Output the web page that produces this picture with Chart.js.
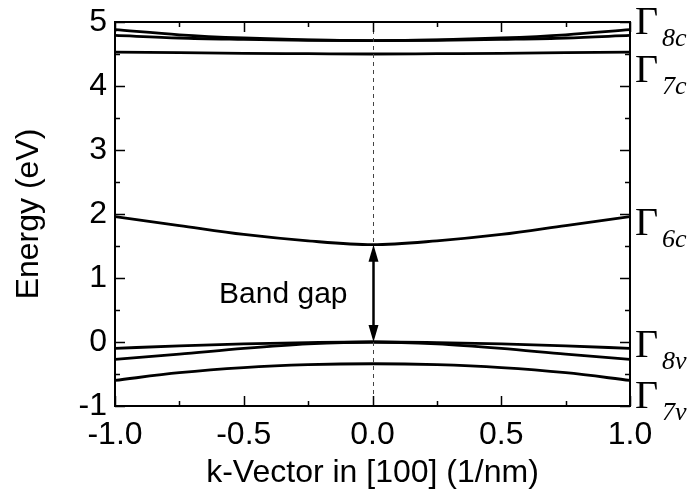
<!DOCTYPE html>
<html>
<head>
<meta charset="utf-8">
<script src="https://cdn.jsdelivr.net/npm/chart.js@4.4.1/dist/chart.umd.min.js"></script>
<style>
  html, body { margin: 0; padding: 0; background: #fff; }
  canvas { display: block; }
</style>
</head>
<body>
<canvas id="canvas" width="692" height="496"></canvas>
<script>
// k-vector sample points (1/nm)
const K = [-1, -0.75, -0.5, -0.25, 0, 0.25, 0.5, 0.75, 1];

// band energies (eV)
const G8C_UPPER = [4.88, 4.80, 4.75, 4.72, 4.71, 4.72, 4.75, 4.80, 4.88];
const G8C_LOWER = [4.79, 4.75, 4.73, 4.715, 4.71, 4.715, 4.73, 4.75, 4.79];
const G7C = [4.53, 4.52, 4.51, 4.505, 4.50, 4.505, 4.51, 4.52, 4.53];
const G6C = [1.96, 1.82, 1.68, 1.58, 1.52, 1.58, 1.68, 1.82, 1.96];
const G8V_HEAVY = [-0.10, -0.06, -0.03, -0.01, 0, -0.01, -0.03, -0.06, -0.10];
const G8V_LIGHT = [-0.27, -0.19, -0.10, -0.03, 0, -0.03, -0.10, -0.19, -0.27];
const G7V = [-0.60, -0.48, -0.40, -0.355, -0.34, -0.355, -0.40, -0.48, -0.60];

const X_TICKS = [-1, -0.5, 0, 0.5, 1];
const Y_TICKS = [-1, 0, 1, 2, 3, 4, 5];

// band labels: main, subscript, energy of the label baseline
const BAND_LABELS = [
    ["Γ", "8c", 4.81],
    ["Γ", "7c", 4.06],
    ["Γ", "6c", 1.67],
    ["Γ", "8v", -0.23],
    ["Γ", "7v", -1.03]
];
const GAP_TOP = 1.52;
const GAP_BOTTOM = 0;

function band(values) {
    return {
        data: K.map(function (k, i) { return {x: k, y: values[i]}; }),
        borderColor: '#000',
        borderWidth: 2.8,
        pointRadius: 0,
        cubicInterpolationMode: 'monotone',
        fill: false
    };
}

const frameTicks = {
    id: 'frameTicks',
    afterDatasetsDraw: function (chart) {
        const ctx = chart.ctx;
        const a = chart.chartArea;
        const xs = chart.scales.x, ys = chart.scales.y;
        ctx.save();

        // dashed line at k = 0
        ctx.strokeStyle = '#444';
        ctx.lineWidth = 1;
        ctx.setLineDash([4, 4]);
        const x0 = Math.round(xs.getPixelForValue(0)) + 0.5;
        ctx.beginPath();
        ctx.moveTo(x0, a.top);
        ctx.lineTo(x0, a.bottom);
        ctx.stroke();
        ctx.setLineDash([]);

        // band gap arrow
        const yt = ys.getPixelForValue(GAP_TOP), yb = ys.getPixelForValue(GAP_BOTTOM);
        ctx.strokeStyle = '#000';
        ctx.fillStyle = '#000';
        ctx.lineWidth = 2.5;
        ctx.beginPath();
        ctx.moveTo(x0, yt + 10);
        ctx.lineTo(x0, yb - 10);
        ctx.stroke();
        ctx.beginPath();
        ctx.moveTo(x0, yt); ctx.lineTo(x0 - 5, yt + 17); ctx.lineTo(x0 + 5, yt + 17); ctx.closePath();
        ctx.fill();
        ctx.beginPath();
        ctx.moveTo(x0, yb); ctx.lineTo(x0 - 5, yb - 17); ctx.lineTo(x0 + 5, yb - 17); ctx.closePath();
        ctx.fill();

        ctx.font = '30px "Liberation Sans", Arial, sans-serif';
        ctx.textAlign = 'right';
        ctx.textBaseline = 'middle';
        ctx.fillText('Band gap', x0 - 26, ys.getPixelForValue(0.74));

        // frame
        ctx.lineWidth = 2;
        ctx.strokeRect(a.left, a.top, a.right - a.left, a.bottom - a.top);

        // inward ticks on all four sides
        ctx.lineWidth = 1.5;
        ctx.beginPath();
        for (let v = -1; v <= 1.001; v += 0.25) {
            const px = Math.round(xs.getPixelForValue(v)) + 0.5;
            const len = Math.abs(v * 2 - Math.round(v * 2)) < 0.01 ? 10 : 5;
            ctx.moveTo(px, a.bottom); ctx.lineTo(px, a.bottom - len);
            ctx.moveTo(px, a.top); ctx.lineTo(px, a.top + len);
        }
        for (let v = -1; v <= 5.001; v += 0.5) {
            const py = Math.round(ys.getPixelForValue(v)) + 0.5;
            const len = Math.abs(v - Math.round(v)) < 0.01 ? 10 : 5;
            ctx.moveTo(a.left, py); ctx.lineTo(a.left + len, py);
            ctx.moveTo(a.right, py); ctx.lineTo(a.right - len, py);
        }
        ctx.stroke();

        // band labels on the right
        ctx.textAlign = 'left';
        ctx.textBaseline = 'alphabetic';
        BAND_LABELS.forEach(function (lb) {
            const base = ys.getPixelForValue(lb[2]);
            ctx.font = '40px "Liberation Serif", "DejaVu Serif", serif';
            ctx.fillText(lb[0], a.right + 5, base);
            ctx.font = 'italic 26px "Liberation Serif", "DejaVu Serif", serif';
            ctx.fillText(lb[1], a.right + 32, base + 12);
        });
        ctx.restore();
    }
};

const ctx = document.getElementById('canvas').getContext('2d');
const chart = new Chart(ctx, {
    type: 'line',
    data: {
        datasets: [band(G8C_UPPER), band(G8C_LOWER), band(G7C), band(G6C),
                   band(G8V_HEAVY), band(G8V_LIGHT), band(G7V)]
    },
    options: {
        responsive: false,
        animation: false,
        layout: { padding: { left: 0, right: 62, top: 22, bottom: 0 } },
        plugins: { legend: { display: false }, tooltip: { enabled: false } },
        scales: {
            x: {
                type: 'linear',
                min: -1, max: 1,
                afterBuildTicks: function (s) { s.ticks = X_TICKS.map(function (v) { return {value: v}; }); },
                afterFit: function (s) { s.height = 90; s.paddingLeft = 0; s.paddingRight = 0; },
                grid: { display: false, drawTicks: false },
                border: { display: false },
                ticks: {
                    color: '#000', padding: 10, maxRotation: 0,
                    font: { family: '"Liberation Sans", Arial, sans-serif', size: 32 },
                    callback: function (v) { return v.toFixed(1); }
                },
                title: {
                    display: true, text: 'k-Vector in [100] (1/nm)', color: '#000',
                    font: { family: '"Liberation Sans", Arial, sans-serif', size: 32 },
                    padding: { top: 0, bottom: 4 }
                }
            },
            y: {
                type: 'linear',
                min: -1, max: 5,
                afterBuildTicks: function (s) { s.ticks = Y_TICKS.map(function (v) { return {value: v}; }); },
                afterFit: function (s) { s.width = 115; s.paddingTop = 0; s.paddingBottom = 0; },
                grid: { display: false, drawTicks: false },
                border: { display: false },
                ticks: {
                    color: '#000', padding: 8,
                    font: { family: '"Liberation Sans", Arial, sans-serif', size: 32 },
                    callback: function (v) { return String(v); }
                },
                title: {
                    display: true, text: 'Energy (eV)', color: '#000',
                    font: { family: '"Liberation Sans", Arial, sans-serif', size: 32 },
                    padding: { top: 10, bottom: 0 }
                }
            }
        }
    },
    plugins: [frameTicks]
});
</script>
</body>
</html>
